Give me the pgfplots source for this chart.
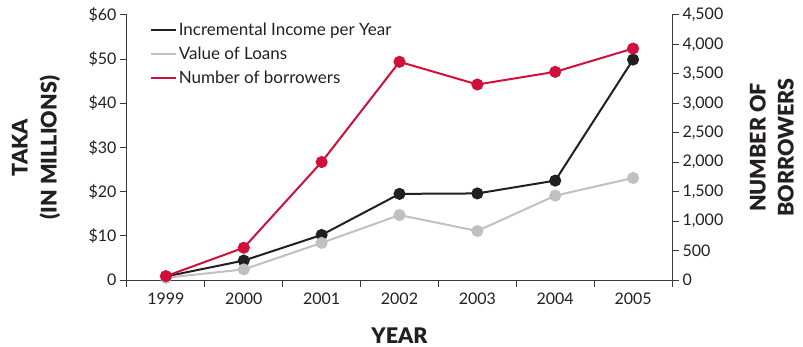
\documentclass[border=0pt]{standalone}
\usepackage{pgfplots}
\pgfplotsset{compat=1.18}
\usepackage{fontspec}
\setmainfont{Lato}
\newfontfamily\heavyfont{Lato Black}
\definecolor{cblack}{HTML}{231F20}
\definecolor{cgray}{HTML}{C0C0C2}
\definecolor{cred}{HTML}{D0103A}
\definecolor{caxis}{HTML}{3A3A3A}
\begin{document}
\begin{tikzpicture}
\pgfplotsset{
  base/.style={
    scale only axis, width=545pt, height=265pt,
    xmin=-0.5, xmax=6.5,
    tick label style={font=\fontsize{16}{18}\selectfont, text=cblack},
    axis line style={caxis, line width=1pt},
    every tick/.style={caxis, line width=1pt},
    major tick length=7pt, minor tick length=7pt,
    tick align=outside,
  }
}
\begin{axis}[base,
  axis x line*=bottom, axis y line*=left,
  ymin=0, ymax=60,
  ytick={0,10,20,30,40,50,60},
  yticklabels={0,\$10,\$20,\$30,\$40,\$50,\$60},
  xtick={0,1,2,3,4,5,6},
  xticklabels={1999,2000,2001,2002,2003,2004,2005},
  minor xtick={-0.5,0.5,1.5,2.5,3.5,4.5,5.5,6.5},
  x tick style={draw=none},
  minor x tick style={draw=caxis, line width=1pt},
  xticklabel style={yshift=-2pt},
  ylabel={TAKA\\[5pt](IN MILLIONS)},
  ylabel style={font=\fontsize{21.5}{24}\selectfont\heavyfont, align=center, at={(axis description cs:-0.167,0.5)}, anchor=center, text=cblack},
  xlabel={YEAR},
  xlabel style={font=\fontsize{21.5}{24}\selectfont\heavyfont, at={(axis description cs:0.5,-0.21)}, anchor=center, text=cblack},
  legend style={draw=none, fill=none, at={(axis description cs:0.036,0.985)}, anchor=north west, font=\fontsize{17}{19}\selectfont, row sep=6pt, text=cblack},
  legend cell align=left,
  legend image code/.code={\draw[#1, mark=none] (0pt,0pt) -- (25pt,0pt);},
]
\coordinate (O) at (rel axis cs:0,0);
\addplot[cblack, line width=2pt, mark=*, mark size=5pt, mark options={fill=cblack, draw=cblack}] coordinates {
(0,0.8) (1,4.4) (2,10.2) (3,19.5) (4,19.6) (5,22.5) (6,49.9)};
\addlegendentry{Incremental Income per Year}
\addplot[cgray, line width=2pt, mark=*, mark size=5pt, mark options={fill=cgray, draw=cgray}] coordinates {
(0,0.5) (1,2.4) (2,8.4) (3,14.7) (4,11.1) (5,19.1) (6,23.1)};
\addlegendentry{Value of Loans}
\addlegendimage{cred, line width=2pt}
\addlegendentry{Number of borrowers}
\end{axis}
\begin{axis}[base,
  axis x line=none, axis y line*=right,
  ymin=0, ymax=4500,
  ytick={0,500,1000,1500,2000,2500,3000,3500,4000,4500},
  yticklabels={0,500,{1,000},{1,500},{2,000},{2,500},{3,000},{3,500},{4,000},{4,500}},
  ylabel={NUMBER OF\\[4pt]BORROWERS},
  ylabel style={font=\fontsize{21.5}{24}\selectfont\heavyfont, align=center, at={(axis description cs:1.183,0.5)}, anchor=center, rotate=0, text=cblack},
]
\addplot[cred, line width=2pt, mark=*, mark size=5pt, mark options={fill=cred, draw=cred}] coordinates {
(0,65) (1,548) (2,2003) (3,3705) (4,3320) (5,3535) (6,3930)};
\end{axis}
\path (O) ++(-127pt,-66pt) rectangle ++(803pt,346pt);
\end{tikzpicture}
\end{document}
